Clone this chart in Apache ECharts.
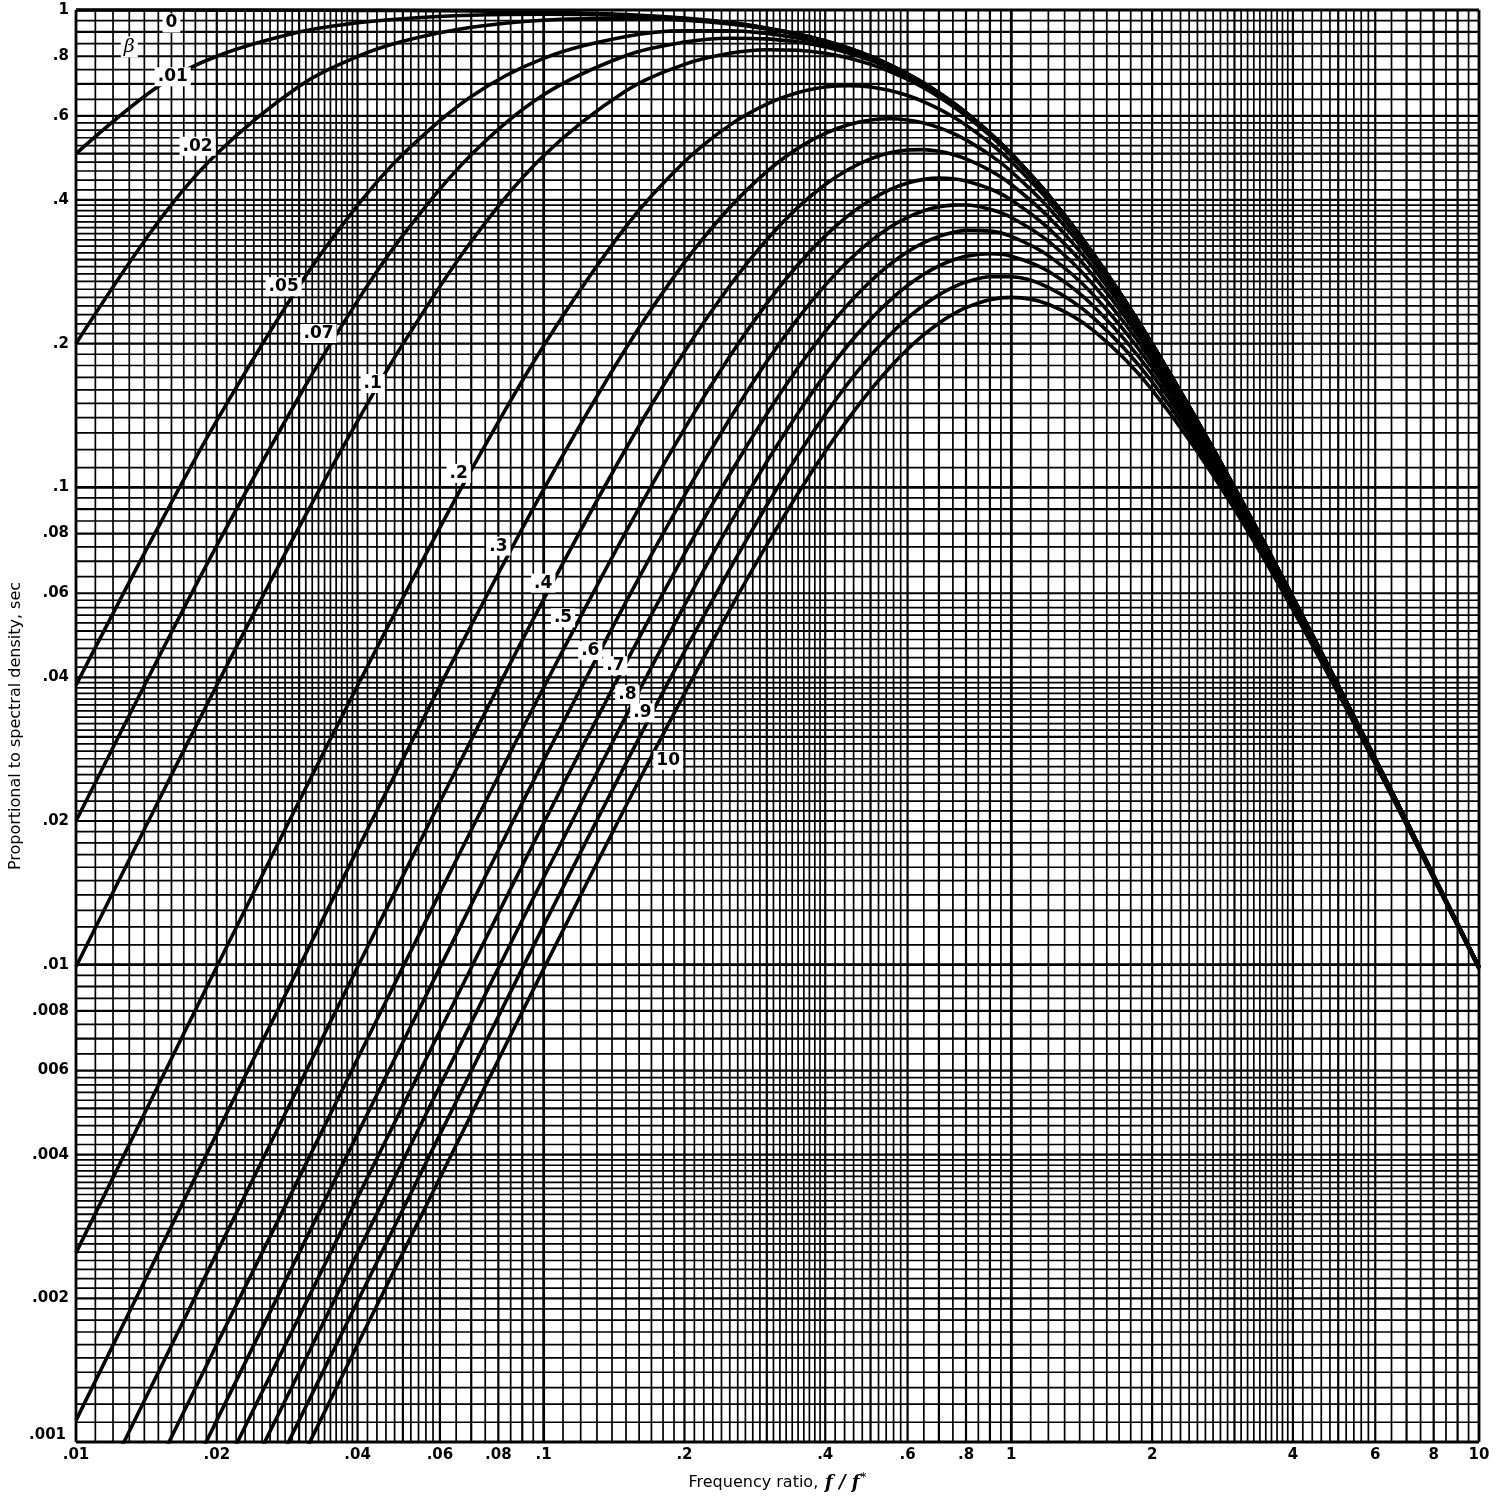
<!DOCTYPE html>
<html><head><meta charset="utf-8">
<script src="https://cdn.jsdelivr.net/npm/echarts@6/dist/echarts.min.js"></script>
<style>html,body{margin:0;padding:0;background:#fff}#c{width:1503px;height:1497px}</style>
</head><body><div id="c"></div>
<script>
// ---- data ----
const freq = [0.01, 0.015, 0.02, 0.03, 0.04, 0.05, 0.07, 0.1, 0.15, 0.2, 0.25, 0.3, 0.35, 0.4, 0.45, 0.5, 0.55, 0.6, 0.65, 0.7, 0.75, 0.8, 0.9, 1, 1.2, 1.5, 2, 3, 5, 10];

const beta0   = [1.000, 0.9998, 0.9996, 0.9991, 0.9984, 0.9975, 0.9951, 0.990, 0.978, 0.9615, 0.9412, 0.917, 0.8909, 0.862, 0.8316, 0.800, 0.7678, 0.735, 0.703, 0.671, 0.640, 0.610, 0.5525, 0.500, 0.410, 0.308, 0.200, 0.100, 0.0385, 0.0099];
const beta001 = [0.500, 0.692, 0.800, 0.899, 0.940, 0.959, 0.975, 0.980, 0.974, 0.959, 0.9397, 0.916, 0.8901, 0.8615, 0.8312, 0.7997, 0.7675, 0.735, 0.7028, 0.671, 0.6399, 0.6097, 0.5524, 0.500, 0.4098, 0.3077, 0.200, 0.100, 0.0385, 0.0099];
const beta002 = [0.200, 0.360, 0.500, 0.692, 0.799, 0.860, 0.920, 0.952, 0.961, 0.952, 0.9352, 0.913, 0.888, 0.860, 0.830, 0.799, 0.7667, 0.7345, 0.7023, 0.6706, 0.6395, 0.6094, 0.5522, 0.4998, 0.4097, 0.3076, 0.200, 0.100, 0.0385, 0.0099];
const beta005 = [0.0385, 0.0826, 0.138, 0.2645, 0.3896, 0.4988, 0.659, 0.792, 0.880, 0.905, 0.905, 0.8926, 0.8731, 0.8488, 0.8215, 0.792, 0.7615, 0.730, 0.6989, 0.6677, 0.6372, 0.6074, 0.5508, 0.4988, 0.4091, 0.3074, 0.1999, 0.100, 0.0385, 0.0099];
const beta007 = [0.020, 0.0439, 0.0755, 0.155, 0.2458, 0.337, 0.4975, 0.6645, 0.803, 0.8566, 0.8728, 0.870, 0.8566, 0.8365, 0.812, 0.7846, 0.7555, 0.7254, 0.6949, 0.6645, 0.6345, 0.6052, 0.5492, 0.4976, 0.4084, 0.307, 0.1998, 0.0999, 0.0385, 0.0099];
const beta01  = [0.0099, 0.022, 0.0385, 0.0825, 0.1377, 0.1995, 0.3273, 0.495, 0.6771, 0.7692, 0.8114, 0.8257, 0.8236, 0.8114, 0.7925, 0.7692, 0.7432, 0.7154, 0.6867, 0.6577, 0.6288, 0.6004, 0.5458, 0.495, 0.407, 0.3063, 0.1995, 0.0999, 0.03845, 0.0099];
const beta02  = [0.00249, 0.00559, 0.0099, 0.022, 0.0384, 0.0587, 0.1086, 0.198, 0.3521, 0.4808, 0.5739, 0.6351, 0.6716, 0.6897, 0.6944, 0.6897, 0.6781, 0.6618, 0.6422, 0.6205, 0.5975, 0.5739, 0.5265, 0.4808, 0.3987, 0.3023, 0.198, 0.0996, 0.0384, 0.0099];
const beta03  = [0.00111, 0.00249, 0.00443, 0.00989, 0.01744, 0.02696, 0.05138, 0.099, 0.1956, 0.2959, 0.3857, 0.4587, 0.5136, 0.5517, 0.5757, 0.5882, 0.5917, 0.5882, 0.5795, 0.567, 0.5517, 0.5346, 0.4972, 0.4587, 0.3857, 0.2959, 0.1956, 0.099, 0.0383, 0.0099];
const beta04  = [0.000625, 0.0014, 0.00249, 0.00559, 0.00989, 0.01535, 0.02957, 0.05824, 0.1206, 0.1923, 0.2644, 0.3303, 0.3863, 0.431, 0.4645, 0.4878, 0.5021, 0.509, 0.5099, 0.5059, 0.4983, 0.4878, 0.4614, 0.431, 0.3688, 0.2873, 0.1923, 0.0983, 0.0382, 0.00988];
const beta05  = [0.0004, 0.0009, 0.0016, 0.00358, 0.00635, 0.00988, 0.01913, 0.03808, 0.08075, 0.1326, 0.1882, 0.2428, 0.293, 0.3364, 0.3721, 0.400, 0.4204, 0.4339, 0.4417, 0.4444, 0.4431, 0.4385, 0.4222, 0.400, 0.3492, 0.2769, 0.1882, 0.0973, 0.0381, 0.00988];
const beta06  = [0.000278, 0.000625, 0.00111, 0.00249, 0.00442, 0.00688, 0.01336, 0.02676, 0.05753, 0.09615, 0.1392, 0.1835, 0.2262, 0.2653, 0.2994, 0.3279, 0.3506, 0.3676, 0.3796, 0.3869, 0.3902, 0.3903, 0.3825, 0.3676, 0.3279, 0.2653, 0.1835, 0.0962, 0.0379, 0.00986];
const beta07  = [0.000204, 0.000459, 0.000816, 0.00183, 0.00325, 0.00506, 0.00985, 0.0198, 0.04294, 0.07257, 0.1065, 0.1424, 0.1782, 0.2122, 0.2432, 0.2703, 0.2931, 0.3114, 0.3255, 0.3356, 0.342, 0.3454, 0.3442, 0.3356, 0.3058, 0.2527, 0.1782, 0.0948, 0.0377, 0.00985];
const beta08  = [0.000156, 0.000351, 0.000625, 0.0014, 0.00249, 0.00388, 0.00756, 0.01523, 0.03321, 0.05656, 0.0837, 0.1131, 0.1431, 0.1724, 0.1999, 0.2247, 0.2464, 0.2647, 0.2795, 0.291, 0.2994, 0.3049, 0.3086, 0.3049, 0.2837, 0.2396, 0.1724, 0.0934, 0.0375, 0.00984];
const beta09  = [0.000123, 0.000278, 0.000494, 0.00111, 0.00197, 0.00307, 0.00598, 0.01207, 0.02643, 0.04525, 0.0674, 0.09174, 0.117, 0.1422, 0.1663, 0.1887, 0.2088, 0.2262, 0.241, 0.253, 0.2623, 0.2691, 0.2762, 0.2762, 0.2623, 0.2262, 0.1663, 0.0917, 0.0373, 0.00982];
const beta10  = [0.0001, 0.000225, 0.0004, 0.0009, 0.0016, 0.00249, 0.00485, 0.0098, 0.02152, 0.03698, 0.0554, 0.07575, 0.0972, 0.1189, 0.14, 0.16, 0.1783, 0.1946, 0.2088, 0.2207, 0.2304, 0.238, 0.2472, 0.25, 0.2419, 0.213, 0.16, 0.09, 0.037, 0.0098];

const curves = [beta0, beta001, beta002, beta005, beta007, beta01, beta02, beta03, beta04, beta05, beta06, beta07, beta08, beta09, beta10];
const curveNames = ['0', '.01', '.02', '.05', '.07', '.1', '.2', '.3', '.4', '.5', '.6', '.7', '.8', '.9', '1.0'];

// curve annotation text and where it sits (data coordinates)
const labelText = ['0', 'β', '.01', '.02', '.05', '.07', '.1', '.2', '.3', '.4', '.5', '.6', '.7', '.8', '.9', '10'];
const labelFreq = [0.0160, 0.0130, 0.0161, 0.0182, 0.0278, 0.0330, 0.0431, 0.0658, 0.080, 0.0998, 0.110, 0.1258, 0.1423, 0.151, 0.1626, 0.1846];
const labelVal  = [0.939, 0.837, 0.725, 0.518, 0.263, 0.210, 0.165, 0.107, 0.0753, 0.063, 0.0533, 0.0455, 0.0423, 0.0368, 0.0337, 0.0268];

// tick labels
const xTickValues = [0.01, 0.02, 0.04, 0.06, 0.08, 0.1, 0.2, 0.4, 0.6, 0.8, 1, 2, 4, 6, 8, 10];
const xTickLabels = ['.01', '.02', '.04', '.06', '.08', '.1', '.2', '.4', '.6', '.8', '1', '2', '4', '6', '8', '10'];
const yTickValues = [1, 0.8, 0.6, 0.4, 0.2, 0.1, 0.08, 0.06, 0.04, 0.02, 0.01, 0.008, 0.006, 0.004, 0.002, 0.001];
const yTickLabels = ['1', '.8', '.6', '.4', '.2', '.1', '.08', '.06', '.04', '.02', '.01', '.008', '006', '.004', '.002', '.001'];

const X_MIN = 0.01, X_MAX = 10, Y_MIN = 0.001, Y_MAX = 1;

// ---- graph-paper rulings (values only; drawn through the axes) ----
function rulings(decades) {
  const out = [];
  decades.forEach(d => {
    const ms = [];
    for (let m = 10; m < 40; m += 1) ms.push(m);
    for (let m = 40; m < 60; m += 2) ms.push(m);
    for (let m = 60; m < 100; m += 5) ms.push(m);
    ms.forEach(m => out.push({ v: +(d * m / 10).toPrecision(6), major: m % 10 === 0, edge: m === 10 }));
  });
  out.push({ v: +(decades[decades.length - 1] * 10).toPrecision(6), major: true, edge: true });
  return out;
}
function findIdx(arr, v) { return arr.findIndex(a => Math.abs(a - v) / a < 1e-6); }
function widthFor(g) { return g.edge ? 2.8 : (g.major ? 2.2 : 1.7); }

const xRuleData = rulings([0.01, 0.1, 1]).map(g => [g.v, Y_MIN, widthFor(g), findIdx(xTickValues, g.v)]);
const yRuleData = rulings([0.001, 0.01, 0.1]).map(g => [X_MIN, g.v, widthFor(g), findIdx(yTickValues, g.v)]);

const FONT = 'DejaVu Sans';
const TICK_FONT = 'bold 15px "DejaVu Sans"';
const CURVE_FONT = 'bold 17px "DejaVu Sans"';

const series = [];
series.push({
  type: 'custom', z: 1, silent: true, clip: false,
  encode: { x: 0, y: 1 },
  data: xRuleData,
  renderItem: (params, api) => {
    const v = api.value(0), w = api.value(2), li = api.value(3);
    const p0 = api.coord([v, Y_MIN]), p1 = api.coord([v, Y_MAX]);
    const ch = [{ type: 'line', shape: { x1: p0[0], y1: p0[1], x2: p1[0], y2: p1[1] }, style: { stroke: '#000', lineWidth: w } }];
    if (li >= 0) ch.push({ type: 'text', x: p0[0], y: p0[1] + 6, style: { text: xTickLabels[li], fill: '#000', font: TICK_FONT, align: 'center', verticalAlign: 'top' } });
    return { type: 'group', children: ch };
  }
});
series.push({
  type: 'custom', z: 1, silent: true, clip: false,
  encode: { x: 0, y: 1 },
  data: yRuleData,
  renderItem: (params, api) => {
    const v = api.value(1), w = api.value(2), li = api.value(3);
    const p0 = api.coord([X_MIN, v]), p1 = api.coord([X_MAX, v]);
    const ch = [{ type: 'line', shape: { x1: p0[0], y1: p0[1], x2: p1[0], y2: p1[1] }, style: { stroke: '#000', lineWidth: w } }];
    if (li >= 0) {
      const low = yTickLabels[li] === '.001';
      ch.push({ type: 'text', x: p0[0] - (low ? 10 : 7), y: p0[1] - (low ? 7 : 0), style: { text: yTickLabels[li], fill: '#000', font: TICK_FONT, align: 'right', verticalAlign: 'middle' } });
    }
    return { type: 'group', children: ch };
  }
});
curves.forEach((arr, k) => {
  series.push({
    name: curveNames[k], type: 'line', z: 5, clip: true, silent: true,
    data: freq.map((f, i) => [f, arr[i]]),
    showSymbol: false, symbol: 'none', smooth: 0.35,
    lineStyle: { color: '#000', width: 3.6 }
  });
});
series.push({
  type: 'custom', z: 10, silent: true, clip: false,
  encode: { x: 0, y: 1 },
  data: labelText.map((t, i) => [labelFreq[i], labelVal[i], i]),
  renderItem: (params, api) => {
    const p = api.coord([api.value(0), api.value(1)]);
    const t = labelText[api.value(2)];
    return {
      type: 'text', x: p[0], y: p[1],
      style: {
        text: t, fill: '#000', align: 'center', verticalAlign: 'middle',
        font: t === 'β' ? 'italic 19px "DejaVu Serif"' : CURVE_FONT,
        backgroundColor: '#fff', padding: [1, 3]
      }
    };
  }
});

const chart = echarts.init(document.getElementById('c'), null, { renderer: 'canvas' });
chart.setOption({
  animation: false,
  backgroundColor: '#fff',
  grid: { left: 75, right: 24, top: 10, bottom: 50, show: false },
  xAxis: {
    type: 'log', logBase: 10, min: X_MIN, max: X_MAX,
    axisLine: { show: false }, axisTick: { show: false }, axisLabel: { show: false }, splitLine: { show: false },
    name: '{n|Frequency ratio,}  {i|f / f}{s|*}', nameLocation: 'middle', nameGap: 30,
    nameTextStyle: {
      rich: {
        n: { fontSize: 16, fontFamily: FONT, color: '#000' },
        i: { fontSize: 18, fontStyle: 'italic', fontWeight: 'bold', fontFamily: 'DejaVu Serif', color: '#000' },
        s: { fontSize: 12, fontFamily: FONT, color: '#000', verticalAlign: 'top', padding: [0, 0, 10, 1] }
      }
    }
  },
  yAxis: {
    type: 'log', logBase: 10, min: Y_MIN, max: Y_MAX,
    axisLine: { show: false }, axisTick: { show: false }, axisLabel: { show: false }, splitLine: { show: false },
    name: 'Proportional to spectral density, sec', nameLocation: 'middle', nameGap: 52,
    nameTextStyle: { fontSize: 16, fontFamily: FONT, color: '#000' }
  },
  series: series
});
</script></body></html>
